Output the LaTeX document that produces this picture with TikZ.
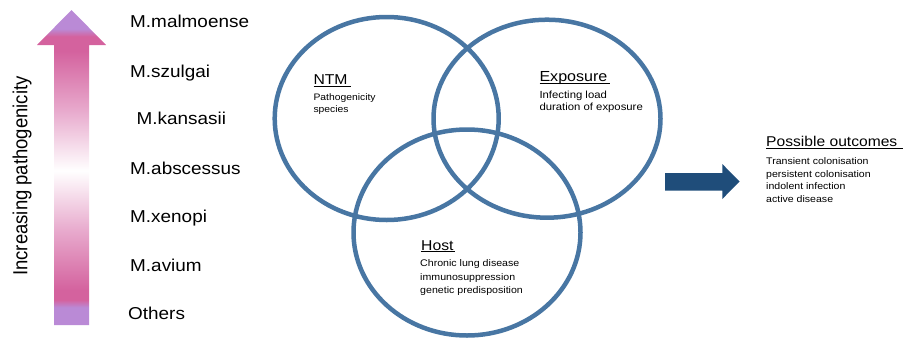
\documentclass[tikz,border=0pt]{standalone}
\usepackage{fontspec}
\setmainfont{Liberation Sans}
\usetikzlibrary{shapes.geometric}
\definecolor{vennblue}{RGB}{72,118,163}
\definecolor{arrblue}{RGB}{31,77,122}
\definecolor{ppur}{RGB}{186,138,214}
\definecolor{ppink}{RGB}{212,98,158}
\definecolor{plight}{RGB}{232,170,205}
\pgfdeclareverticalshading{pathog}{100bp}{color(0bp)=(ppur); color(25bp)=(ppur); color(27.8bp)=(ppur); color(29bp)=(ppink); color(30.5bp)=(ppink); color(40bp)=(plight); color(49.5bp)=(white); color(59bp)=(plight); color(68.5bp)=(ppink); color(70.8bp)=(ppink); color(72bp)=(ppur); color(75bp)=(ppur); color(100bp)=(ppur)}
\newcommand{\ulx}[2][0pt]{\begingroup\setbox0\hbox{#2}\rlap{\rule[-2pt]{\dimexpr\wd0+#1\relax}{0.8pt}}\box0\endgroup}
\tikzset{
  venn/.style={ellipse, draw=vennblue, line width=4.5pt, inner sep=0pt},
  txt/.style={anchor=base west, inner sep=0pt, xscale=1.1},
  species/.style={txt, font=\fontsize{17.2}{20}\selectfont},
  head/.style={txt, font=\fontsize{14.3}{16}\selectfont},
  body/.style={txt, font=\fontsize{9.6}{11}\selectfont},
}
\begin{document}
\begin{tikzpicture}[x=1pt,y=-1pt]
\useasboundingbox (0,0) rectangle (904,338);
% pink gradient arrow
\shade[shading=pathog] (54,325) -- (54,45) -- (37,45) -- (71.5,10) -- (106,45) -- (89,45) -- (89,325) -- cycle;
\node[rotate=90, inner sep=0pt, font=\fontsize{18.5}{21}\selectfont] (incr) at (22,176) {\scalebox{1}[1.1]{Increasing pathogenicity}};
% species labels
\node[species] (malm) at (130,27.5) {M.malmoense};
\node[species] (szul) at (130,77.7) {M.szulgai};
\node[species] (kans) at (136.5,124) {M.kansasii};
\node[species] (absc) at (130,174) {M.abscessus};
\node[species] (xeno) at (130,222.5) {M.xenopi};
\node[species] (aviu) at (130,271.8) {M.avium};
\node[species] (othe) at (128,319.5) {Others};
% venn
\node[venn, minimum width=224pt, minimum height=203pt] (ntm) at (386.7,118.5) {};
\node[venn, minimum width=227pt, minimum height=198pt] (expo) at (547,118.7) {};
\node[venn, minimum width=227pt, minimum height=206pt] (host) at (467,232.5) {};
% NTM text
\node[head] (ntmt) at (313.3,84.3) {\ulx[3pt]{NTM}};
\node[body, font=\fontsize{9.4}{11}\selectfont] (ntm1) at (313.3,100.6) {Pathogenicity};
\node[body, font=\fontsize{9.4}{11}\selectfont] (ntm2) at (313.3,112.2) {species};
% Exposure text
\node[head, font=\fontsize{14.6}{16}\selectfont] (expt) at (539.3,81.7) {\ulx[2pt]{Exposure}};
\node[body, font=\fontsize{10.3}{12}\selectfont] (exp1) at (539.3,98.3) {Infecting load};
\node[body, font=\fontsize{10.3}{12}\selectfont] (exp2) at (539.3,110.5) {duration of exposure};
% Host text
\node[head] (hostt) at (421,250) {\ulx[1pt]{Host}};
\node[body, font=\fontsize{9.65}{11}\selectfont] (host1) at (420,266.7) {Chronic lung disease};
\node[body, font=\fontsize{9.65}{11}\selectfont] (host2) at (420,280) {immunosuppression};
\node[body, font=\fontsize{9.65}{11}\selectfont] (host3) at (420,293) {genetic predisposition};
% outcome arrow
\fill[arrblue] (665,173) -- (722.3,173) -- (722.3,164) -- (739.5,181.5) -- (722.3,199) -- (722.3,190.5) -- (665,190.5) -- cycle;
% outcomes
\node[head, font=\fontsize{14.2}{16}\selectfont] (outt) at (766,146.5) {\ulx[5pt]{Possible outcomes}};
\node[body] (out1) at (766,164.5) {Transient colonisation};
\node[body] (out2) at (766,177.1) {persistent colonisation};
\node[body] (out3) at (766,189.7) {indolent infection};
\node[body] (out4) at (766,202.3) {active disease};
\end{tikzpicture}
\end{document}
